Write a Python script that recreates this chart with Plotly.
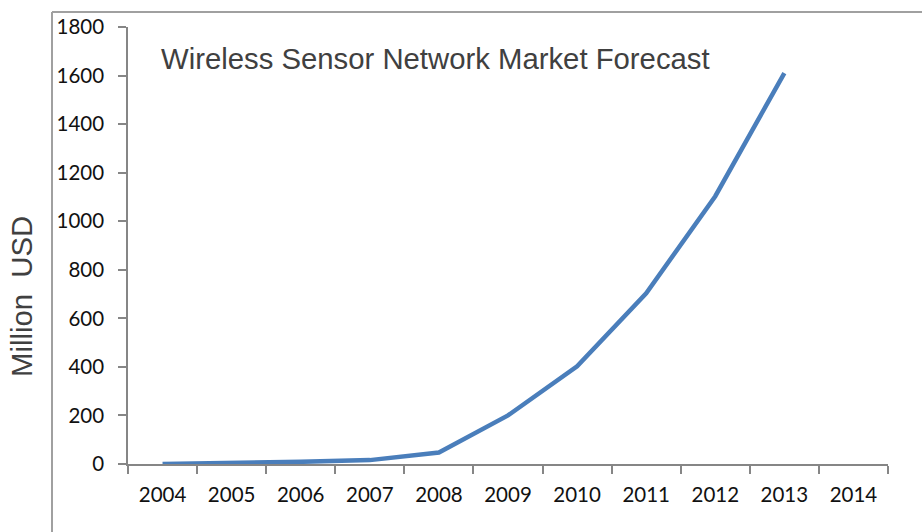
import plotly.graph_objects as go

years = ["2004", "2005", "2006", "2007", "2008", "2009", "2010", "2011", "2012", "2013", "2014"]
market_musd = [0, 3, 9, 16, 47, 200, 402, 703, 1103, 1610, None]
y_ticks = [0, 200, 400, 600, 800, 1000, 1200, 1400, 1600, 1800]

W, H = 922, 532
L, R, T, B = 128, 34, 27, 68
pw, ph = W - L - R, H - T - B

def px_x(x):
    return (x - L) / pw

def px_y(y):
    return (H - B - y) / ph

fig = go.Figure()
fig.add_trace(go.Scatter(
    x=years, y=market_musd, mode="lines",
    line=dict(color="#4a7ebb", width=4.5),
    connectgaps=False, hoverinfo="skip", showlegend=False,
))

axis_font = dict(family="Lato, Carlito, Calibri, sans-serif", size=20.5, color="#111111")

fig.update_layout(
    width=W, height=H,
    margin=dict(l=L, r=R, t=T, b=B, pad=0),
    paper_bgcolor="white", plot_bgcolor="white",
    xaxis=dict(
        type="category", categoryorder="array", categoryarray=years,
        range=[-0.5, len(years) - 0.5], tickson="boundaries",
        ticks="outside", ticklen=8, tickcolor="#868686", tickwidth=1.5,
        showline=True, linecolor="#868686", linewidth=1.5,
        showgrid=False, zeroline=False, tickfont=axis_font,
        ticklabelstandoff=12,
    ),
    yaxis=dict(
        range=[0, 1800], tickvals=y_ticks, ticktext=[str(v) for v in y_ticks],
        ticks="outside", ticklen=8, tickcolor="#868686", tickwidth=1.5,
        showline=True, linecolor="#868686", linewidth=1.5,
        showgrid=False, zeroline=False, tickfont=axis_font,
        ticklabelstandoff=10,
    ),
    shapes=[
        dict(type="line", xref="paper", yref="paper",
             x0=px_x(52), x1=px_x(52), y0=px_y(12), y1=px_y(540),
             line=dict(color="#a0a0a0", width=2)),
        dict(type="line", xref="paper", yref="paper",
             x0=px_x(52), x1=px_x(930), y0=px_y(12), y1=px_y(12),
             line=dict(color="#a0a0a0", width=2)),
    ],
    annotations=[
        dict(text="Wireless Sensor Network Market Forecast", xref="paper", yref="paper",
             x=px_x(159), y=px_y(58), xanchor="left", yanchor="middle", showarrow=False,
             font=dict(family="Liberation Sans, Arial, sans-serif", size=29.3, color="#404040")),
        dict(text="Million\u00a0 USD", xref="paper", yref="paper",
             x=px_x(21), y=px_y(297), xanchor="center", yanchor="middle", showarrow=False,
             textangle=-90,
             font=dict(family="Liberation Sans, Arial, sans-serif", size=29.3, color="#404040")),
    ],
)

fig.write_html("out.html")
